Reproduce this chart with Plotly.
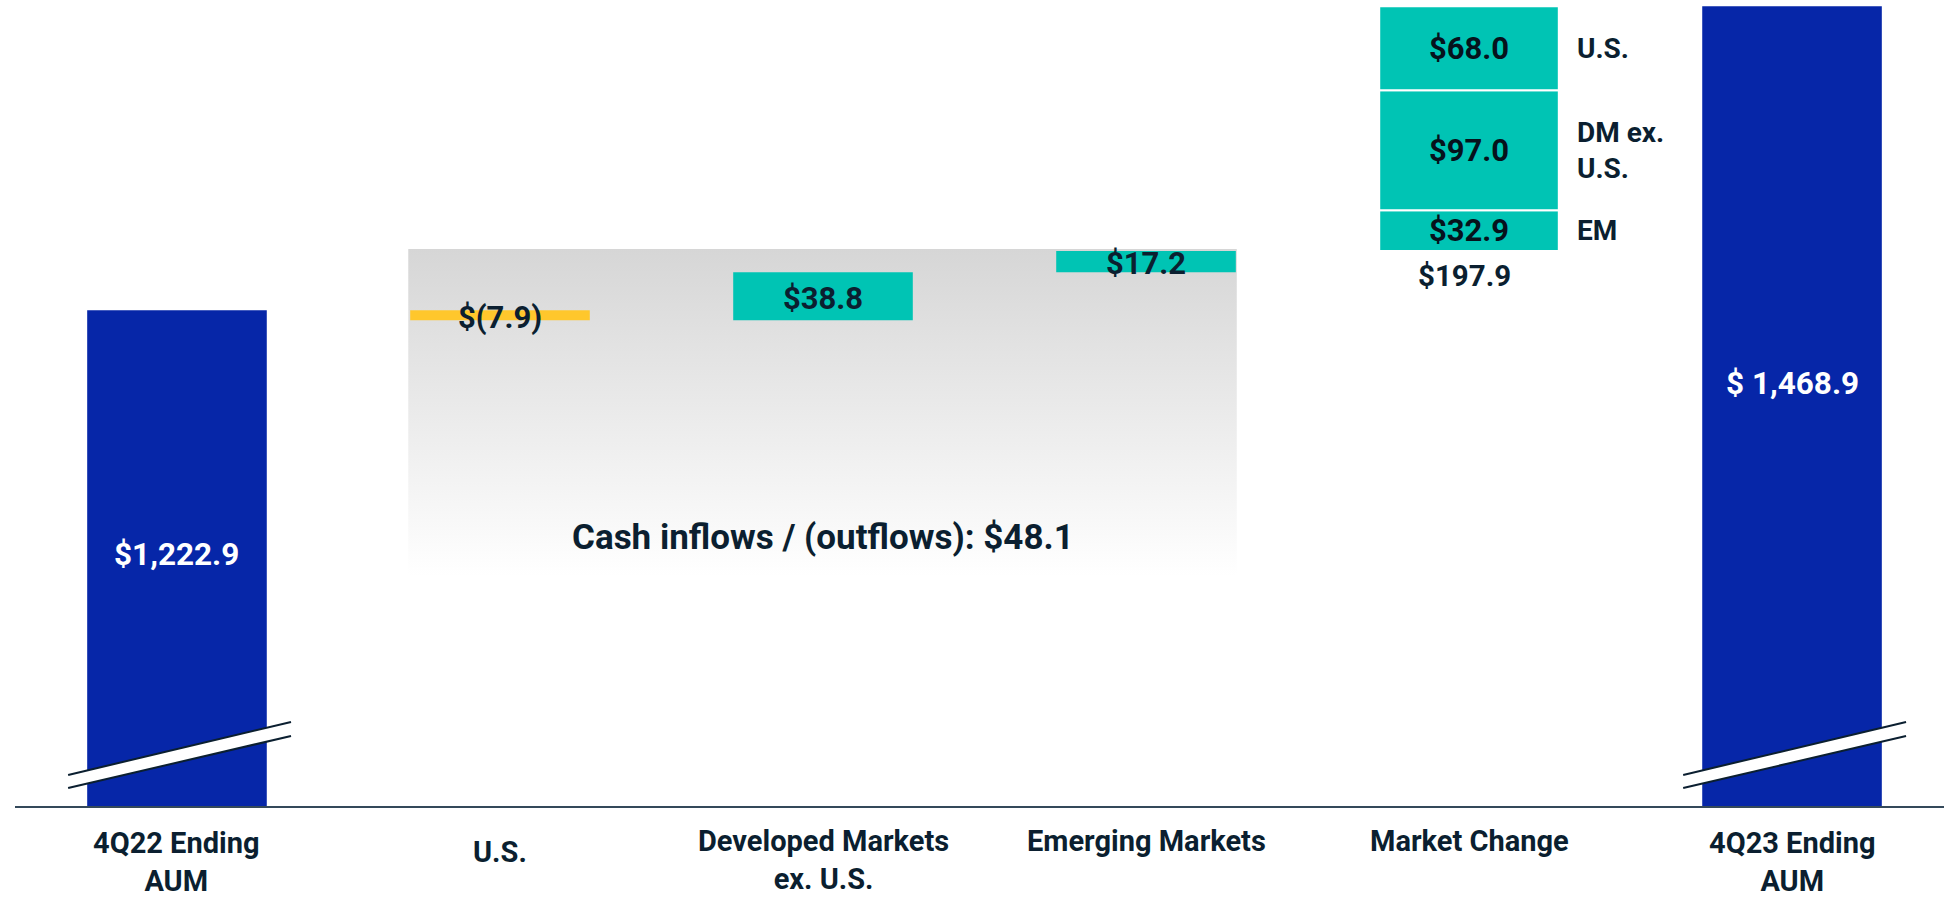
import plotly.graph_objects as go

# ---------------- data ----------------
categories = ["4Q22 Ending<br>AUM", "U.S.", "Developed Markets<br>ex. U.S.",
              "Emerging Markets", "Market Change", "4Q23 Ending<br>AUM"]
start_aum = 1222.9
end_aum = 1468.9
flow_values = [-7.9, 38.8, 17.2]            # U.S., DM ex. U.S., EM cash flows
market_labels = ["EM", "DM ex.<br>U.S.", "U.S."]   # bottom to top
market_values = [32.9, 97.0, 68.0]

# ---------------- styles ----------------
BLUE = "#0626A8"
TEAL = "#00C4B4"
YELLOW = "#FFC72C"
TXT = "#0b1f30"
FONT = "Roboto"
BW = 0.556
Y_BOTTOM, Y_TOP = 821.9, 1474.0
X_MIN, X_MAX = -0.5015, 5.4705


def fmt(v):
    return f"${v:,.1f}" if v >= 0 else f"$({abs(v):,.1f})"


# running totals
flow_bases = []
run = start_aum
for v in flow_values:
    flow_bases.append(run)
    run += v
mc_bases = []
for v in market_values:
    mc_bases.append(run)
    run += v
flow_total = sum(flow_values)
mc_total = sum(market_values)

fig = go.Figure()

# gradient background behind cash-flow bars (base axes -> drawn underneath)
gx0 = 1 - BW / 2 - 0.006
gx1 = 3 + BW / 2 + 0.003
gtop = max(flow_bases + [flow_bases[-1] + flow_values[-1]]) + 1.5
gbot = 1008.0
fig.add_trace(go.Scatter(
    x=[gx0, gx1, gx1, gx0, gx0], y=[gbot, gbot, gtop, gtop, gbot],
    mode="lines", line=dict(width=0), fill="toself",
    fillgradient=dict(type="vertical", colorscale=[[0, "rgb(255,255,255)"], [1, "rgb(214,214,214)"]]),
    hoverinfo="skip", xaxis="x", yaxis="y"))

# totals
fig.add_trace(go.Bar(x=[0, 5], y=[start_aum, end_aum], base=[0, 0], width=BW,
                     marker=dict(color=BLUE, line=dict(width=0)),
                     hoverinfo="skip", xaxis="x2", yaxis="y2"))
# cash flows
fig.add_trace(go.Bar(x=[1, 2, 3], y=flow_values, base=flow_bases, width=BW,
                     marker=dict(color=[YELLOW if v < 0 else TEAL for v in flow_values],
                                 line=dict(width=0)),
                     hoverinfo="skip", xaxis="x2", yaxis="y2"))
# market change stack
fig.add_trace(go.Bar(x=[4] * len(market_values), y=market_values, base=mc_bases, width=BW,
                     marker=dict(color=TEAL, line=dict(color="white", width=2)),
                     hoverinfo="skip", xaxis="x2", yaxis="y2"))

ann = []
# total labels
total_shift = [4, 23]
for i, (xv, v, txt) in enumerate([(0, start_aum, fmt(start_aum)), (5, end_aum, f"$ {end_aum:,.1f}")]):
    ann.append(dict(x=xv, y=(Y_BOTTOM + v) / 2, xref="x2", yref="y2", text=txt, showarrow=False,
                    yshift=total_shift[i], font=dict(family=FONT, size=31.5, color="white", weight="bold")))
# flow labels
for i, v in enumerate(flow_values):
    ann.append(dict(x=i + 1, y=flow_bases[i] + v / 2, xref="x2", yref="y2", text=fmt(v),
                    showarrow=False, yshift=-2,
                    font=dict(family=FONT, size=31, color=TXT, weight="bold")))
# market change segment labels + side labels
for i, v in enumerate(market_values):
    ym = mc_bases[i] + v / 2
    ann.append(dict(x=4, y=ym, xref="x2", yref="y2", text=fmt(v), showarrow=False,
                    font=dict(family=FONT, size=31, color="#06121c", weight="bold")))
    ann.append(dict(x=4 + BW / 2, y=ym, xref="x2", yref="y2", text=market_labels[i],
                    showarrow=False, xanchor="left", align="left", xshift=16,
                    font=dict(family=FONT, size=28, color=TXT, weight="bold")))
ann.append(dict(x=4, y=mc_bases[0], xref="x2", yref="y2", text=fmt(mc_total), showarrow=False,
                yanchor="top", yshift=-6, xshift=-5,
                font=dict(family=FONT, size=29.5, color=TXT, weight="bold")))
# cash flow total
ann.append(dict(x=2, y=gbot, xref="x2", yref="y2", text=f"Cash inflows / (outflows): {fmt(flow_total)}",
                showarrow=False, yshift=38,
                font=dict(family=FONT, size=35, color=TXT, weight="bold")))
# category labels
label_shift = [-18, -27, -16, -16, -16, -18]
for i, c in enumerate(categories):
    ann.append(dict(x=i, y=0, xref="x2", yref="paper", text=c, showarrow=False,
                    yanchor="top", yshift=label_shift[i],
                    font=dict(family=FONT, size=29, color=TXT, weight="bold")))

# axis-break marks
shapes = []
for xc in [0, 5]:
    xl, xr = xc - 0.337, xc + 0.353
    ul, ur, ll, lr = 0.0385, 0.1042, 0.0223, 0.0869
    shapes.append(dict(type="path", xref="x", yref="paper",
                       path=f"M {xl},{ul} L {xr},{ur} L {xr},{lr} L {xl},{ll} Z",
                       fillcolor="white", line=dict(width=0), layer="above"))
    shapes.append(dict(type="line", xref="x", yref="paper", x0=xl, y0=ul, x1=xr, y1=ur,
                       line=dict(color=TXT, width=2), layer="above"))
    shapes.append(dict(type="line", xref="x", yref="paper", x0=xl, y0=ll, x1=xr, y1=lr,
                       line=dict(color=TXT, width=2), layer="above"))

fig.update_layout(
    width=1944, height=903,
    margin=dict(l=15, r=0, t=0, b=97),
    paper_bgcolor="white", plot_bgcolor="white",
    showlegend=False, barmode="overlay",
    annotations=ann, shapes=shapes,
    xaxis=dict(range=[X_MIN, X_MAX], showgrid=False, zeroline=False, showticklabels=False,
               showline=True, linecolor="#34495a", linewidth=2, ticks=""),
    yaxis=dict(range=[Y_BOTTOM, Y_TOP], visible=False),
    xaxis2=dict(range=[X_MIN, X_MAX], overlaying="x", visible=False),
    yaxis2=dict(range=[Y_BOTTOM, Y_TOP], overlaying="y", visible=False),
)

fig.write_html("out.html", config={"displayModeBar": False},
               post_script="document.body.style.margin='0';")
